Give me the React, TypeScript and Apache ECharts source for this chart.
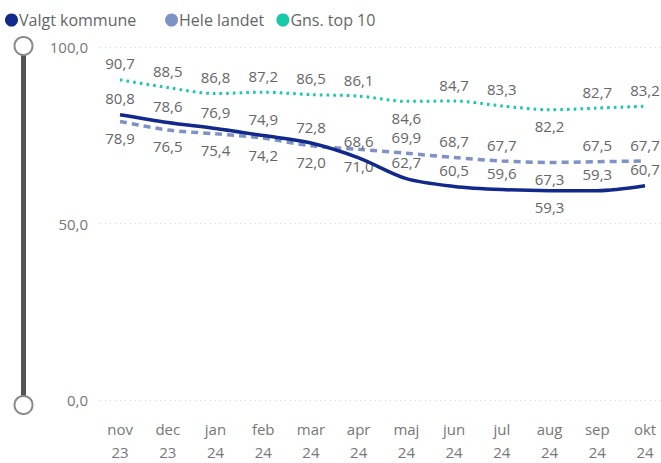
import React, { useEffect, useRef } from "react";
import * as echarts from "echarts";

const categories = ["nov\n23", "dec\n23", "jan\n24", "feb\n24", "mar\n24", "apr\n24", "maj\n24", "jun\n24", "jul\n24", "aug\n24", "sep\n24", "okt\n24"];
const valgtKommune = [80.8, 78.6, 76.9, 74.9, 72.8, 68.6, 62.7, 60.5, 59.6, 59.3, 59.3, 60.7];
const heleLandet = [78.9, 76.5, 75.4, 74.2, 72.0, 71.0, 69.9, 68.7, 67.7, 67.3, 67.5, 67.7];
const gnsTop10 = [90.7, 88.5, 86.8, 87.2, 86.5, 86.1, 84.6, 84.7, 83.3, 82.2, 82.7, 83.2];
const yTicks = [0, 50, 100];

// label placement (indices whose label flips side)
const valgtBelow = [9];
const heleAbove = [6, 7, 8, 10, 11];
const top10Below = [6, 9];

const FONT = '"Segoe UI", "Open Sans", sans-serif';
const fmt = (v: number) => v.toFixed(1).replace(".", ",");

function buildData(values: number[], defaultPos: string, flip: number[]) {
  const other = defaultPos === "top" ? "bottom" : "top";
  return values.map((v, i) => ({
    value: [i, v],
    label: { position: flip.includes(i) ? other : defaultPos },
  }));
}

export default function App() {
  const ref = useRef<HTMLDivElement>(null);
  useEffect(() => {
    if (!ref.current) return;
    const chart = echarts.init(ref.current, undefined, { renderer: "svg" });
    const labelBase = {
      show: true,
      color: "#666",
      fontSize: 15,
      fontFamily: FONT,
      distance: 9,
      formatter: (p: any) => fmt(p.value[1]),
    };
    chart.setOption({
      animation: false,
      backgroundColor: "#fff",
      legend: {
        left: 0,
        top: 7,
        icon: "circle",
        itemWidth: 13,
        itemHeight: 13,
        itemGap: 8,
        textStyle: { color: "#666", fontSize: 16, fontFamily: FONT, padding: [0, 0, 0, -4] },
        formatter: (name: string) =>
          name === "Valgt kommune" ? name + "     " : name === "Hele landet" ? name + " " : name,
        data: ["Valgt kommune", "Hele landet", "Gns. top 10"],
      },
      grid: { left: 100, right: 0, top: 47, bottom: 58 },
      xAxis: {
        type: "value",
        min: -0.42,
        max: 11.335,
        axisLine: { show: false },
        axisTick: { show: false },
        splitLine: { show: false },
        axisLabel: {
          customValues: categories.map((_, i) => i),
          formatter: (v: number) => categories[Math.round(v)] ?? "",
          color: "#777",
          fontSize: 15,
          fontFamily: FONT,
          lineHeight: 23,
          margin: 17,
        },
      },
      yAxis: {
        type: "value",
        min: yTicks[0],
        max: yTicks[yTicks.length - 1],
        interval: 50,
        axisLine: { show: false },
        axisTick: { show: false },
        axisLabel: {
          formatter: (v: number) => fmt(v),
          color: "#777",
          fontSize: 15,
          fontFamily: FONT,
          margin: 12,
        },
        splitLine: { show: true, lineStyle: { color: "#d8d8d8", type: [1, 4], width: 1 } },
      },
      graphic: [
        { type: "rect", shape: { x: 21, y: 46, width: 5, height: 359 }, style: { fill: "#555" }, z: 10 },
        { type: "circle", shape: { cx: 23.5, cy: 46, r: 9 }, style: { fill: "#fff", stroke: "#8a8a8a", lineWidth: 2 }, z: 11 },
        { type: "circle", shape: { cx: 23.5, cy: 405, r: 9 }, style: { fill: "#fff", stroke: "#8a8a8a", lineWidth: 2 }, z: 11 },
      ],
      series: [
        {
          name: "Valgt kommune",
          type: "line",
          smooth: 0.3,
          showSymbol: true,
          symbol: "circle",
          symbolSize: 0,
          itemStyle: { color: "#12298C" },
          lineStyle: { color: "#12298C", width: 3.5 },
          label: labelBase,
          labelLayout: { hideOverlap: false },
          data: buildData(valgtKommune, "top", valgtBelow),
          z: 4,
        },
        {
          name: "Hele landet",
          type: "line",
          smooth: 0.3,
          showSymbol: true,
          symbol: "circle",
          symbolSize: 0,
          itemStyle: { color: "#7F92C6" },
          lineStyle: { color: "#7F92C6", width: 3.5, type: [7, 5] },
          label: labelBase,
          data: buildData(heleLandet, "bottom", heleAbove),
          z: 3,
        },
        {
          name: "Gns. top 10",
          type: "line",
          smooth: 0.3,
          showSymbol: true,
          symbol: "circle",
          symbolSize: 0,
          itemStyle: { color: "#18C8A8" },
          lineStyle: { color: "#18C8A8", width: 3, type: [2.6, 4.1] },
          label: labelBase,
          data: buildData(gnsTop10, "top", top10Below),
          z: 2,
        },
      ],
    });
    return () => chart.dispose();
  }, []);
  return (
    <div
      ref={ref}
      style={{ position: "fixed", left: 0, top: 0, width: 661, height: 463, background: "#fff" }}
    />
  );
}
